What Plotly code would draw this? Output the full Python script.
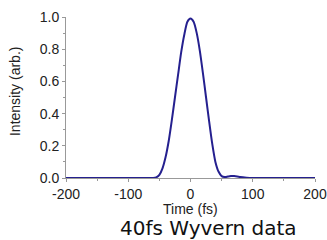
import plotly.graph_objects as go

time_fs = [-200, -100, -70, -60, -55, -50, -45, -40, -35, -30, -25, -20, -15, -10, -5, 0,
           5, 10, 15, 20, 25, 30, 35, 40, 45, 50, 55, 60, 65, 70, 75, 80, 90, 100, 150, 200]
intensity = [0.0, 0.0, 0.0, 0.0, 0.004, 0.02, 0.06, 0.13, 0.23, 0.36, 0.50, 0.64, 0.78, 0.89, 0.97, 0.99,
             0.97, 0.90, 0.79, 0.65, 0.50, 0.35, 0.21, 0.10, 0.04, 0.012, 0.006, 0.009, 0.012, 0.012, 0.01, 0.006, 0.002, 0.0, 0.0, 0.0]

x_ticks = [-200, -100, 0, 100, 200]
y_ticks = [0.0, 0.2, 0.4, 0.6, 0.8, 1.0]

fig = go.Figure()
fig.add_trace(go.Scatter(x=time_fs, y=intensity, mode="lines",
                         line=dict(color="#25208f", width=2, shape="spline", smoothing=0.6),
                         hoverinfo="skip", showlegend=False, cliponaxis=False))

axis_font = dict(family="Liberation Sans, Arial", size=14, color="#222")
fig.update_layout(
    width=327, height=240,
    margin=dict(l=66, r=12, t=17, b=62),
    paper_bgcolor="white", plot_bgcolor="white",
    font=dict(family="Liberation Sans, Arial", color="#222"),
    xaxis=dict(range=[-200, 200], tickvals=x_ticks, ticktext=[str(v) for v in x_ticks], automargin=False,
               showgrid=False, zeroline=False, showline=True, linecolor="#999", linewidth=1,
               ticks="outside", ticklen=3, tickcolor="#999", tickfont=axis_font,
               minor=dict(tickvals=[-150, -50, 50, 150], ticks="outside", ticklen=2, tickcolor="#999")),
    yaxis=dict(range=[0, 1.0], tickvals=y_ticks, ticktext=["%.1f" % v for v in y_ticks], automargin=False,
               showgrid=False, zeroline=False, showline=True, linecolor="#999", linewidth=1,
               ticks="outside", ticklen=3, tickcolor="#999", tickfont=axis_font,
               minor=dict(tickvals=[0.1, 0.3, 0.5, 0.7, 0.9], ticks="outside", ticklen=2, tickcolor="#999")),
    annotations=[
        dict(text="Time (fs)", xref="paper", yref="paper", x=0.498, y=-0.195, xanchor="center", yanchor="middle",
             showarrow=False, font=dict(family="Liberation Sans, Arial", size=14, color="#222")),
        dict(text="Intensity (arb.)", xref="paper", yref="paper", x=-0.205, y=0.54, xanchor="center", yanchor="middle",
             textangle=-90, showarrow=False, font=dict(family="Liberation Sans, Arial", size=14, color="#222")),
        dict(text="40fs Wyvern data", xref="paper", yref="paper", x=0.574, y=-0.31, xanchor="center", yanchor="middle",
             showarrow=False, font=dict(family="DejaVu Sans", size=20, color="#111")),
    ],
)
fig.write_html("out.html", config={"displayModeBar": False},
               post_script="document.body.style.margin='0';")
